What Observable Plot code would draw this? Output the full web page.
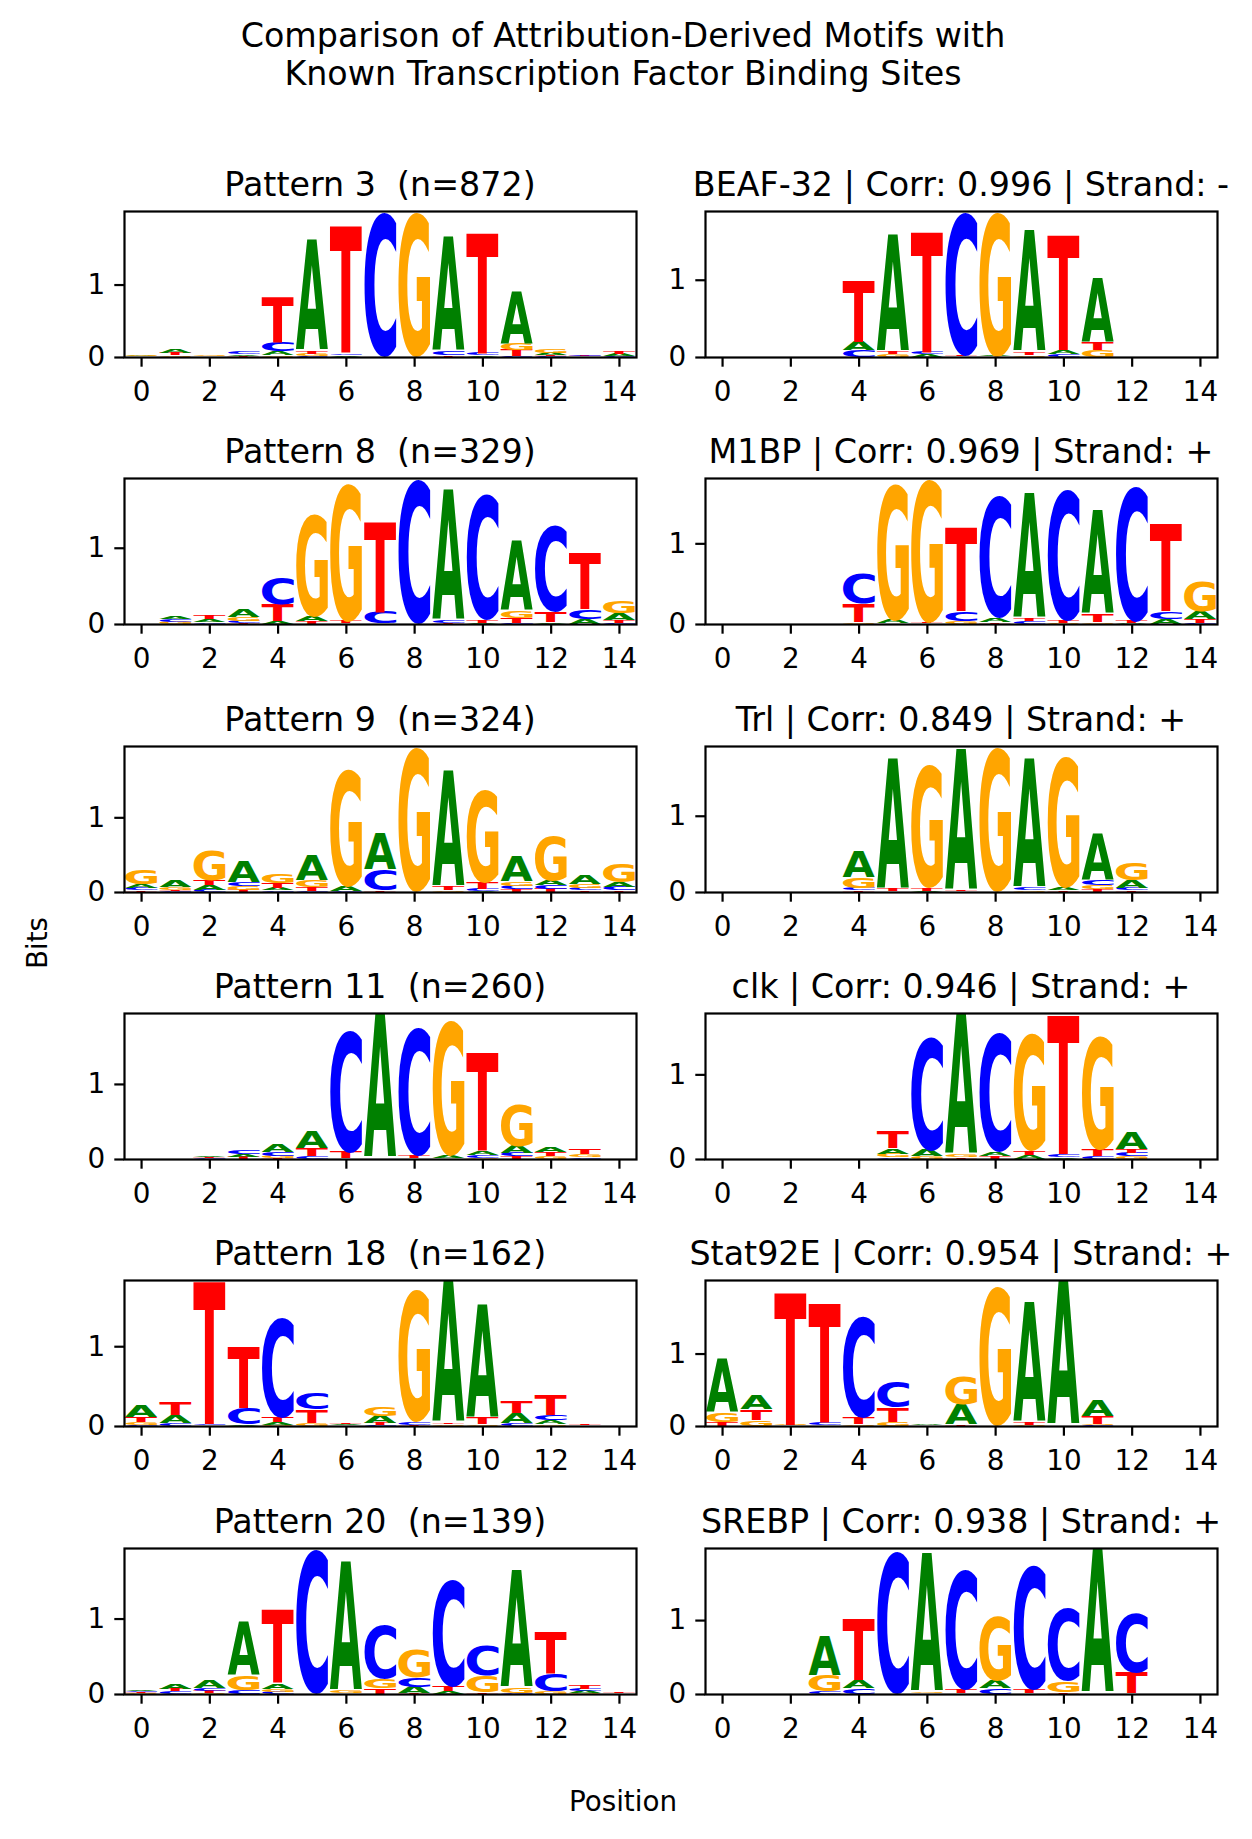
<!DOCTYPE html>
<html>
<head>
<meta charset="utf-8">
<script src="https://cdn.jsdelivr.net/npm/d3@7"></script>
<script src="https://cdn.jsdelivr.net/npm/@observablehq/plot@0.6"></script>
<style>
html, body { margin: 0; padding: 0; background: #fff; }
#fig { position: relative; width: 1252px; height: 1839px; background: #fff; overflow: hidden; }
#fig svg { position: absolute; }
</style>
</head>
<body>
<div id="fig"></div>
<script>
// ---------------- DATA ----------------
const letters = ["A", "C", "G", "T"];
const letterColors = ["#008000", "#0000ff", "#ffa500", "#ff0000"];
const xTicks = [0, 2, 4, 6, 8, 10, 12, 14];
const yTicks = [0, 1];
const suptitleLines = ["Comparison of Attribution-Derived Motifs with", "Known Transcription Factor Binding Sites"];
const xAxisLabel = "Position";
const yAxisLabel = "Bits";
const leftTitles = ["Pattern 3  (n=872)", "Pattern 8  (n=329)", "Pattern 9  (n=324)", "Pattern 11  (n=260)", "Pattern 18  (n=162)", "Pattern 20  (n=139)"];
const rightTitles = ["BEAF-32 | Corr: 0.996 | Strand: -", "M1BP | Corr: 0.969 | Strand: +", "Trl | Corr: 0.849 | Strand: +", "clk | Corr: 0.946 | Strand: +", "Stat92E | Corr: 0.954 | Strand: +", "SREBP | Corr: 0.938 | Strand: +"];

// each row = one position (0..14): bits for [A, C, G, T]
const pattern3 = [
  [0.01, 0.005, 0.01, 0.005], [0.06, 0.005, 0.025, 0.03], [0.005, 0.005, 0.02, 0.005], [0.02, 0.035, 0.005, 0.015],
  [0.06, 0.12, 0.02, 0.64], [1.53, 0.01, 0.035, 0.04], [0.02, 0.025, 0.005, 1.76], [0.005, 2.0, 0.005, 0.005],
  [0.005, 0.005, 2.0, 0.005], [1.59, 0.05, 0.005, 0.02], [0.02, 0.03, 0.005, 1.68], [0.73, 0.01, 0.1, 0.08],
  [0.03, 0.01, 0.06, 0.02], [0.005, 0.02, 0.005, 0.01], [0.03, 0.01, 0.005, 0.04]
];
const beaf32 = [
  [0, 0, 0, 0], [0, 0, 0, 0], [0, 0, 0, 0], [0, 0, 0, 0],
  [0.11, 0.08, 0.005, 0.81], [1.52, 0.005, 0.03, 0.04], [0.03, 0.03, 0.005, 1.57], [0.005, 1.86, 0.005, 0.02],
  [0.01, 0.005, 1.87, 0.005], [1.58, 0.005, 0.02, 0.04], [0.05, 0.03, 0.005, 1.50], [0.83, 0.005, 0.085, 0.095],
  [0, 0, 0, 0], [0, 0, 0, 0], [0, 0, 0, 0]
];
const pattern8 = [
  [0.005, 0.005, 0.005, 0.005], [0.035, 0.03, 0.025, 0.005], [0.04, 0.02, 0.005, 0.05], [0.1, 0.03, 0.05, 0.01],
  [0.03, 0.36, 0.005, 0.22], [0.06, 0.005, 1.35, 0.04], [0.005, 0.005, 1.82, 0.03], [0.005, 0.15, 0.005, 1.2],
  [0.005, 1.9, 0.005, 0.005], [1.72, 0.04, 0.005, 0.01], [0.01, 1.66, 0.005, 0.04], [0.91, 0.01, 0.09, 0.07],
  [0.02, 1.14, 0.005, 0.14], [0.06, 0.13, 0.005, 0.74], [0.09, 0.01, 0.15, 0.04]
];
const m1bp = [
  [0, 0, 0, 0], [0, 0, 0, 0], [0, 0, 0, 0], [0, 0, 0, 0],
  [0.005, 0.37, 0.02, 0.23], [0.04, 0.005, 1.7, 0.005], [0.005, 0.005, 1.78, 0.02], [0.005, 0.12, 0.03, 1.05],
  [0.05, 1.52, 0.005, 0.02], [1.56, 0.03, 0.005, 0.03], [0.005, 1.63, 0.01, 0.03], [1.3, 0.005, 0.02, 0.09],
  [0.01, 1.68, 0.005, 0.03], [0.06, 0.09, 0.005, 1.1], [0.1, 0.01, 0.36, 0.05]
];
const pattern9 = [
  [0.05, 0.03, 0.19, 0.02], [0.08, 0.01, 0.035, 0.02], [0.06, 0.03, 0.39, 0.07], [0.28, 0.05, 0.045, 0.03],
  [0.035, 0.02, 0.13, 0.06], [0.33, 0.02, 0.09, 0.045], [0.06, 0.01, 1.57, 0.005], [0.49, 0.27, 0.005, 0.02],
  [0.005, 0.005, 1.94, 0.005], [1.55, 0.005, 0.02, 0.045], [0.01, 0.03, 1.26, 0.09], [0.34, 0.05, 0.052, 0.035],
  [0.06, 0.05, 0.59, 0.045], [0.12, 0.035, 0.045, 0.02], [0.07, 0.045, 0.25, 0.02]
];
const trl = [
  [0, 0, 0, 0], [0, 0, 0, 0], [0, 0, 0, 0], [0, 0, 0, 0],
  [0.35, 0.035, 0.14, 0.02], [1.72, 0.005, 0.005, 0.03], [0.01, 0.005, 1.62, 0.04], [1.85, 0.005, 0.005, 0.02],
  [0.005, 0.005, 1.9, 0.005], [1.7, 0.035, 0.02, 0.005], [0.03, 0.005, 1.72, 0.02], [0.61, 0.065, 0.055, 0.04],
  [0.1, 0.03, 0.23, 0.02], [0, 0, 0, 0], [0, 0, 0, 0]
];
const pattern11 = [
  [0, 0, 0, 0], [0, 0, 0, 0], [0.015, 0.01, 0.005, 0.01], [0.03, 0.045, 0.005, 0.025],
  [0.1, 0.05, 0.03, 0.015], [0.23, 0.035, 0.005, 0.11], [0.005, 1.62, 0.005, 0.08], [1.93, 0.005, 0.005, 0.005],
  [0.005, 1.72, 0.005, 0.04], [0.04, 0.005, 1.8, 0.005], [0.05, 0.04, 0.01, 1.31], [0.1, 0.045, 0.55, 0.035],
  [0.06, 0.005, 0.04, 0.05], [0.005, 0.02, 0.035, 0.065], [0, 0, 0, 0]
];
const clk = [
  [0, 0, 0, 0], [0, 0, 0, 0], [0, 0, 0, 0], [0, 0, 0, 0],
  [0, 0, 0, 0], [0.065, 0.02, 0.04, 0.2], [0.07, 1.35, 0.03, 0.005], [1.67, 0.005, 0.03, 0.02],
  [0.05, 1.41, 0.005, 0.035], [0.045, 0.005, 1.4, 0.05], [0.02, 0.03, 0.005, 1.66], [0.005, 0.03, 1.35, 0.08],
  [0.2, 0.04, 0.03, 0.05], [0, 0, 0, 0], [0, 0, 0, 0]
];
const pattern18 = [
  [0.14, 0.015, 0.035, 0.06], [0.1, 0.035, 0.005, 0.16], [0.005, 0.02, 0.005, 1.8], [0.02, 0.2, 0.005, 0.78],
  [0.035, 1.25, 0.01, 0.065], [0.005, 0.2, 0.03, 0.17], [0.01, 0.005, 0.005, 0.01], [0.09, 0.015, 0.11, 0.025],
  [0.005, 0.04, 1.67, 0.01], [1.78, 0.005, 0.015, 0.015], [1.43, 0.005, 0.02, 0.08], [0.13, 0.03, 0.005, 0.15],
  [0.05, 0.07, 0.02, 0.25], [0.005, 0.005, 0.005, 0.02], [0.005, 0.005, 0.005, 0.005]
];
const stat92e = [
  [0.75, 0.005, 0.13, 0.05], [0.2, 0.005, 0.08, 0.15], [0.005, 0.005, 0.01, 1.84], [0.005, 0.04, 0.005, 1.65],
  [0.005, 1.4, 0.02, 0.09], [0.005, 0.35, 0.05, 0.2], [0.01, 0.005, 0.005, 0.005], [0.27, 0.005, 0.4, 0.02],
  [0.005, 0.005, 1.92, 0.005], [1.65, 0.005, 0.01, 0.035], [2.0, 0.005, 0.005, 0.005], [0.22, 0.01, 0.02, 0.11],
  [0, 0, 0, 0], [0, 0, 0, 0], [0, 0, 0, 0]
];
const pattern20 = [
  [0.02, 0.015, 0.01, 0.01], [0.07, 0.03, 0.005, 0.03], [0.11, 0.04, 0.01, 0.03], [0.72, 0.05, 0.19, 0.005],
  [0.07, 0.03, 0.04, 0.97], [0.005, 1.92, 0.005, 0.005], [1.72, 0.005, 0.03, 0.005], [0.005, 0.71, 0.13, 0.07],
  [0.08, 0.12, 0.38, 0.015], [0.03, 1.42, 0.005, 0.06], [0.005, 0.39, 0.22, 0.02], [1.55, 0.01, 0.07, 0.005],
  [0.005, 0.23, 0.035, 0.55], [0.025, 0.035, 0.01, 0.045], [0.005, 0.005, 0.005, 0.02]
];
const srebp = [
  [0, 0, 0, 0], [0, 0, 0, 0], [0, 0, 0, 0], [0.54, 0.03, 0.22, 0.005],
  [0.11, 0.07, 0.005, 0.84], [0.005, 1.93, 0.005, 0.005], [1.88, 0.005, 0.02, 0.005], [0.005, 1.64, 0.005, 0.05],
  [0.1, 0.07, 0.87, 0.005], [0.005, 1.69, 0.005, 0.045], [0.005, 0.98, 0.15, 0.02], [1.96, 0.005, 0.005, 0.005],
  [0.005, 0.81, 0.005, 0.28], [0, 0, 0, 0], [0, 0, 0, 0]
];
const leftPanels = [pattern3, pattern8, pattern9, pattern11, pattern18, pattern20];
const rightPanels = [beaf32, m1bp, trl, clk, stat92e, srebp];

// ---------------- LAYOUT / STYLE ----------------
const FONT = "DejaVu Sans";
const TITLE_SIZE = 33.3, TICK_SIZE = 27.8, LABEL_SIZE = 27.8;
const colLeft = [124, 705];
const PW = 512, PH = 146;
const rowTop0 = 211, rowPitch = 267.3;
const ML = 80, MR = 6, MT = 6, MB = 60;
const LINE_W = 2.2, TICK_LEN = 9.7, TICK_PAD_X = 14.5, TICK_PAD_Y = 9.7;
const GLYPH_W = 0.47;
const CENTER_X = 623;

const fig = document.getElementById("fig");

// glyph metrics for stretching letters to fill their boxes
const measCtx = document.createElement("canvas").getContext("2d");
measCtx.font = `bold 100px "${FONT}"`;
measCtx.textAlign = "left";
measCtx.textBaseline = "alphabetic";
const glyphBox = {};
for (const L of letters) {
  const m = measCtx.measureText(L);
  glyphBox[L] = { l: -m.actualBoundingBoxLeft, r: m.actualBoundingBoxRight, t: -m.actualBoundingBoxAscent, b: m.actualBoundingBoxDescent };
}

function stackRows(rows) {
  const out = [];
  rows.forEach((r, pos) => {
    const items = letters.map((L, k) => ({ L, k, v: r[k] })).filter(d => d.v > 0).sort((a, b) => a.v - b.v);
    let y = 0;
    for (const it of items) {
      out.push({ pos, letter: it.L, color: letterColors[it.k], y1: y, y2: y + it.v });
      y += it.v;
    }
  });
  return out;
}

function glyphRender(data) {
  return function (index, scales, values) {
    const g = d3.create("svg:g");
    for (const i of index) {
      const xa = Math.min(values.x1[i], values.x2[i]), xb = Math.max(values.x1[i], values.x2[i]);
      const yt = Math.min(values.y1[i], values.y2[i]), yb = Math.max(values.y1[i], values.y2[i]);
      const L = data[i].letter, b = glyphBox[L];
      const sx = (xb - xa) / (b.r - b.l), sy = (yb - yt) / (b.b - b.t);
      if (!(sy > 0) || !(sx > 0)) continue;
      const fill = values.fill ? values.fill[i] : data[i].color;
      g.append("text")
        .attr("font-family", FONT)
        .attr("font-weight", "bold")
        .attr("font-size", 100)
        .attr("text-anchor", "start")
        .attr("fill", fill)
        .attr("transform", `translate(${xa - b.l * sx},${yb - b.b * sy}) scale(${sx},${sy})`)
        .text(L);
    }
    return g.node();
  };
}

function logoPlot(rows) {
  const data = stackRows(rows);
  const ymax = d3.max(rows, r => d3.sum(r));
  return Plot.plot({
    width: ML + PW + MR,
    height: MT + PH + MB,
    marginLeft: ML, marginRight: MR, marginTop: MT, marginBottom: MB,
    x: { domain: [-0.5, 14.5] },
    y: { domain: [0, ymax] },
    style: { fontFamily: FONT, fontSize: TICK_SIZE + "px", color: "black", background: "transparent", overflow: "visible" },
    marks: [
      Plot.rect(data, { x1: d => d.pos - GLYPH_W, x2: d => d.pos + GLYPH_W, y1: "y1", y2: "y2", fill: "color", inset: 0, render: glyphRender(data) }),
      Plot.frame({ stroke: "black", strokeWidth: LINE_W }),
      Plot.axisX({ ticks: xTicks, tickSize: TICK_LEN, tickPadding: TICK_PAD_X, fontSize: TICK_SIZE, strokeWidth: LINE_W, label: null, tickFormat: d => String(d) }),
      Plot.axisY({ ticks: yTicks, tickSize: TICK_LEN, tickPadding: TICK_PAD_Y, fontSize: TICK_SIZE, strokeWidth: LINE_W, label: null, tickFormat: d => String(d) })
    ]
  });
}

// text overlay
const NS = "http://www.w3.org/2000/svg";
const overlay = document.createElementNS(NS, "svg");
overlay.setAttribute("width", 1252);
overlay.setAttribute("height", 1839);
overlay.style.left = "0px"; overlay.style.top = "0px";
overlay.style.pointerEvents = "none";
function addText(str, x, y, size, opts = {}) {
  const t = document.createElementNS(NS, "text");
  t.setAttribute("x", x); t.setAttribute("y", y);
  t.setAttribute("font-family", FONT);
  t.setAttribute("font-size", size);
  t.setAttribute("text-anchor", "middle");
  t.setAttribute("fill", "black");
  t.setAttribute("xml:space", "preserve");
  t.style.whiteSpace = "pre";
  if (opts.transform) t.setAttribute("transform", opts.transform);
  t.textContent = str;
  overlay.appendChild(t);
}

for (let r = 0; r < 6; r++) {
  const top = rowTop0 + rowPitch * r;
  [[leftPanels[r], leftTitles[r]], [rightPanels[r], rightTitles[r]]].forEach(([rows, title], c) => {
    const svg = logoPlot(rows);
    svg.style.left = (colLeft[c] - ML) + "px";
    svg.style.top = (top - MT) + "px";
    fig.appendChild(svg);
    addText(title, colLeft[c] + PW / 2, top - 15, TITLE_SIZE);
  });
}

addText(suptitleLines[0], CENTER_X, 46.5, TITLE_SIZE);
addText(suptitleLines[1], CENTER_X, 84.5, TITLE_SIZE);
addText(xAxisLabel, CENTER_X, 1811, LABEL_SIZE);
addText(yAxisLabel, 0, 0, LABEL_SIZE, { transform: "translate(47,943) rotate(-90)" });
fig.appendChild(overlay);
</script>
</body>
</html>
